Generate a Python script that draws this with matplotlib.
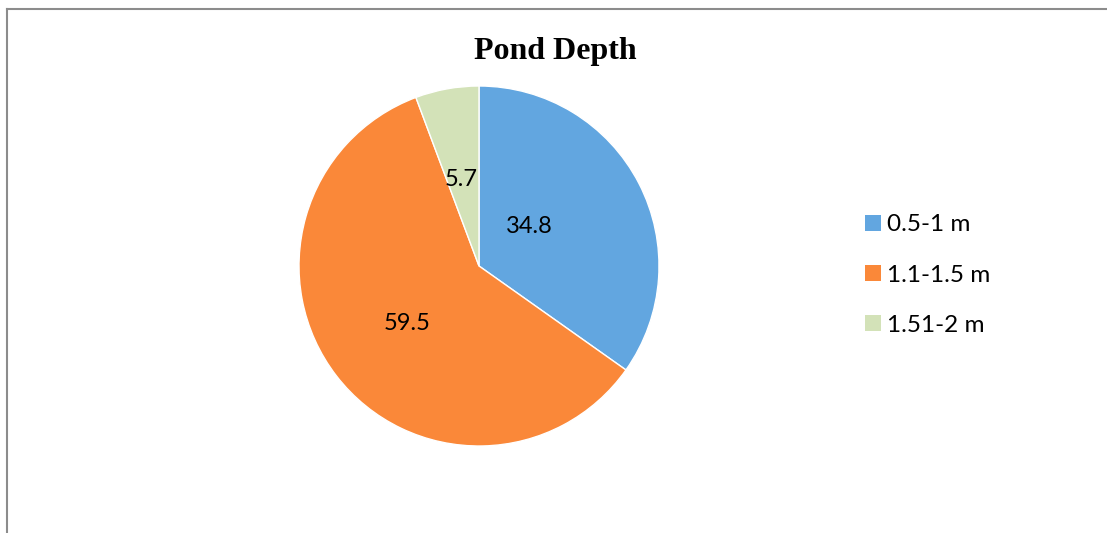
import matplotlib
matplotlib.use("Agg")
import matplotlib.pyplot as plt
from matplotlib.patches import Patch
from matplotlib.lines import Line2D

categories = ["0.5-1 m", "1.1-1.5 m", "1.51-2 m"]
values = [34.8, 59.5, 5.7]
colors = ["#62A6E0", "#FA8839", "#D3E2B8"]
label_xy = [(0.278, 0.222), (-0.40, -0.317), (-0.10, 0.478)]

W, H = 1107, 533
fig = plt.figure(figsize=(W / 100, H / 100), dpi=100)

# border lines
fig.add_artist(Line2D([7 / W, 7 / W], [0, 1 - 9 / H], transform=fig.transFigure, color="#8C8C8C", lw=1.5))
fig.add_artist(Line2D([7 / W, 1], [1 - 9 / H, 1 - 9 / H], transform=fig.transFigure, color="#8C8C8C", lw=1.5))

cx, cy, r = 479, 266, 180
ax = fig.add_axes([(cx - r) / W, (H - cy - r) / H, 2 * r / W, 2 * r / H])
wedges, _ = ax.pie(values, colors=colors, startangle=90, counterclock=False,
                   wedgeprops=dict(edgecolor="white", linewidth=1.0))
ax.set_aspect("equal")
ax.set_xlim(-1, 1)
ax.set_ylim(-1, 1)

for (x, y), v in zip(label_xy, values):
    ax.text(x, y, f"{v}", ha="center", va="center",
            fontsize=17, family="Lato", color="black")

fig.text(555 / W, 1 - 52 / H, "Pond Depth", ha="center", va="center",
         fontsize=23, fontweight="bold", family="Liberation Serif")

handles = [Patch(facecolor=c, edgecolor="none") for c in colors]
leg = fig.legend(handles, categories, loc="center left", bbox_to_anchor=(865 / W, 1 - 275 / H),
                 frameon=False, prop=dict(family="Lato", size=17.5), borderpad=0, borderaxespad=0,
                 handlelength=0.66, handleheight=0.66, handletextpad=0.25, labelspacing=1.2)

fig.savefig("out.png", dpi=100)
